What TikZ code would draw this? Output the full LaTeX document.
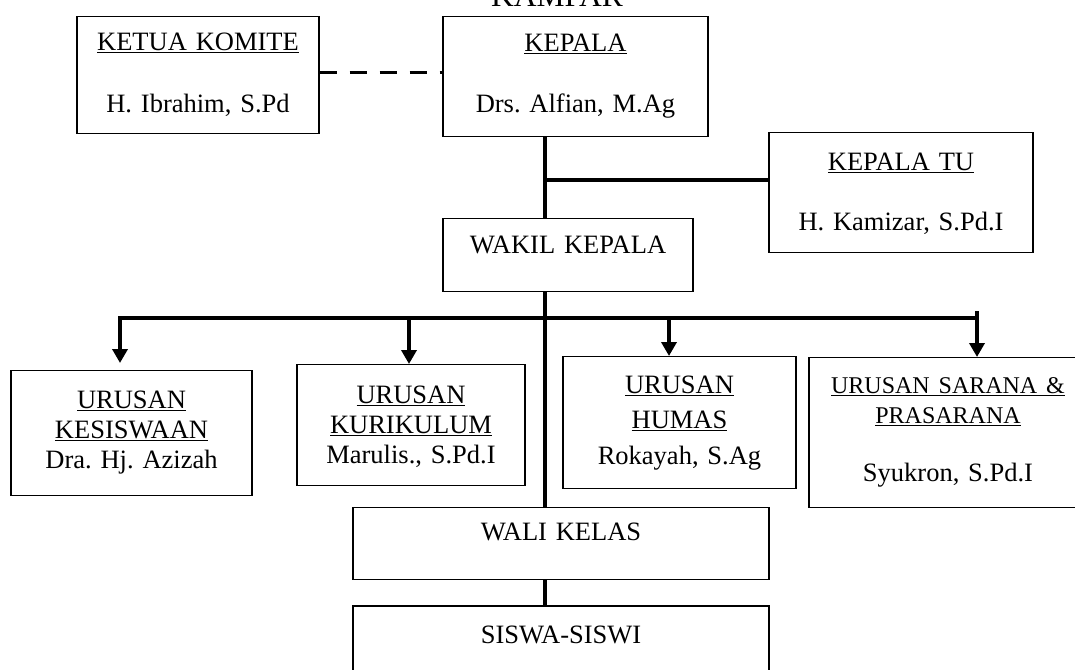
\documentclass[tikz,border=0pt]{standalone}
\usepackage{fontspec}
\setmainfont{Liberation Serif}
\usetikzlibrary{arrows.meta,positioning}
\frenchspacing

\begin{document}
\begin{tikzpicture}[
            x=1pt, y=-1pt,
            unit/.style={ draw, line width=1.4pt, inner sep=0pt, align=center, anchor=north,
                          font=\fontsize{26.5}{30}\selectfont },
            link/.style={ line width=3.6pt },
            dotlink/.style={ line width=3pt, dash pattern=on 17pt off 13pt },
            down/.style={ link, -{Triangle[width=15pt,length=14pt]} },
            node distance=25pt
        ]
        \useasboundingbox (0,0) rectangle (1075,669);

        \node[anchor=base, font=\fontsize{31.5}{36}\selectfont] (title) at (557,7) {KAMPAR};

        % pimpinan
        \node[unit, text width=242pt, text height=34pt, text depth=83pt] (komite) at (198,16)
            {\underline{KETUA KOMITE}\\[32pt]H. Ibrahim, S.Pd};
        \node[unit, text width=265pt, text height=35pt, text depth=85pt] (kepala) at (575.5,16)
            {\underline{KEPALA}\\[31pt]Drs. Alfian, M.Ag};
        \node[unit, text width=264pt, text height=38pt, text depth=82pt] (kepalatu) at (901,132)
            {\underline{KEPALA TU}\\[30pt]H. Kamizar, S.Pd.I};
        \node[unit, text width=250pt, text height=35pt, text depth=38pt] (wakil) at (568,218)
            {WAKIL KEPALA};

        % urusan
        \node[unit, text width=241pt, text height=38pt, text depth=87pt] (kesiswaan) at (131.5,370)
            {\underline{URUSAN}\\\underline{KESISWAAN}\\Dra. Hj. Azizah};
        \node[unit, text width=228pt, text height=39pt, text depth=82pt] (kurikulum) at (411,364)
            {\underline{URUSAN}\\\underline{KURIKULUM}\\Marulis., S.Pd.I};
        \node[unit, text width=233pt, text height=37pt, text depth=95pt] (humas) at (679.5,356)
            {\underline{URUSAN}\\[5pt]\underline{HUMAS}\\[6pt]Rokayah, S.Ag};
        \node[unit, text width=278pt, text height=36pt, text depth=114pt] (sarana) at (948,357)
            {{\fontsize{24}{29}\selectfont\underline{URUSAN SARANA \&}}\\
             {\fontsize{24}{29}\selectfont\underline{PRASARANA}}\\[28pt]Syukron, S.Pd.I};

        \node[unit, text width=416pt, text height=33pt, text depth=39pt] (wali) at (561,507)
            {WALI KELAS};
        \node[unit, text width=416pt, text height=37pt, text depth=40pt, below=of wali] (siswa)
            {SISWA-SISWI};

        % garis
        \coordinate (spine) at (545,0);
        \coordinate (dashy) at (0,72);
        \coordinate (tujoint) at (545,180);
        \coordinate (barl) at (120,318);
        \coordinate (barr) at (977,318);
        \coordinate (kurdrop) at (409,318);
        \coordinate (humdrop) at (669,318);
        \coordinate (sardrop) at (977,311);

        \draw[dotlink] (komite.east |- dashy) -- (kepala.west |- dashy);
        \draw[link] (kepala.south -| spine) -- (wakil.north -| spine);
        \draw[link] (tujoint) -- (tujoint -| kepalatu.west);
        \draw[link] (wakil.south -| spine) -- (wali.north -| spine);
        \draw[link] (wali.south -| spine) -- (siswa.north -| spine);

        \draw[down, shorten >=7pt] (barr) -- (barl) -- (barl |- kesiswaan.north);
        \draw[down] (kurdrop) -- (kurdrop |- kurikulum.north);
        \draw[down] (humdrop) -- (humdrop |- humas.north);
        \draw[down] (sardrop) -- (sardrop |- sarana.north);
\end{tikzpicture}
\end{document}
